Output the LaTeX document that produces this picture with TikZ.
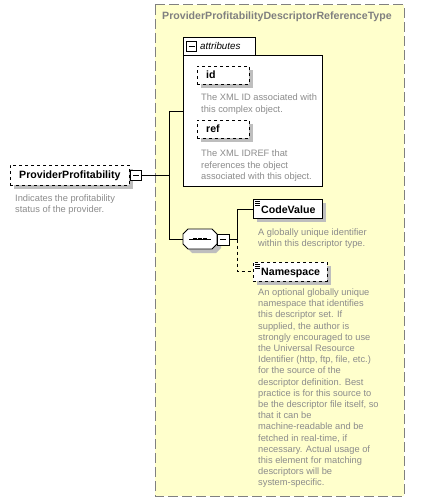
\documentclass[tikz,border=0pt]{standalone}
\usepackage{fontspec}
\setmainfont{Liberation Sans}
\begin{document}
\begin{tikzpicture}[x=1pt,y=-1pt,
  desc/.style={anchor=north west,inner sep=0pt,text=descgray,align=left,font=\fontsize{9.3}{11.2}\selectfont},
  elem/.style={draw=black,fill=white,inner sep=0pt,font=\fontsize{10}{12}\selectfont\bfseries},
  lbl/.style={anchor=west,inner sep=0pt,font=\fontsize{10.6}{12}\selectfont\bfseries},
  conn/.style={draw=black,line width=0.8pt},
  minusbox/.style={draw=black,fill=white,line width=0.8pt}
]
\definecolor{descgray}{RGB}{140,140,140}
\definecolor{titlegray}{RGB}{128,128,128}
\definecolor{shadowgray}{RGB}{190,190,190}
\definecolor{boxyellow}{RGB}{255,255,204}
\definecolor{framegray}{RGB}{128,128,128}
\useasboundingbox (0,0) rectangle (447,502);
\fill[white] (0,0) rectangle (447,502);

% type container
\draw[fill=boxyellow,draw=framegray,line width=1pt,dash pattern=on 10pt off 4pt] (155,5) rectangle (404,496);
\node[anchor=west,inner sep=0pt,text=titlegray,font=\fontsize{10.6}{12}\selectfont\bfseries] (title) at (162,17) {ProviderProfitabilityDescriptorReferenceType};

% attributes group
\draw[fill=white,draw=black,line width=0.8pt] (183,55) rectangle (322,186);
\draw[fill=white,draw=black,line width=0.8pt] (183,55) -- (183,37) -- (255,37) -- (255,55);
\draw[minusbox] (186.5,41.5) rectangle (196.5,51.5);
\draw[line width=0.8pt] (188.5,46.5) -- (194.5,46.5);
\node[anchor=west,inner sep=0pt,font=\fontsize{9.8}{11}\selectfont\itshape] (attr) at (200,46) {attributes};

% id
\fill[shadowgray] (201,70) rectangle (253,88);
\node[elem,dashed,minimum width=52pt,minimum height=18pt,anchor=north west] (id) at (197,66) {};
\node[lbl] at (206,75) {id};
\node[desc] (iddesc) at (201,94) {The XML ID associated with\\this complex object.};

% ref
\fill[shadowgray] (201,124) rectangle (253,142);
\node[elem,dashed,minimum width=52pt,minimum height=18pt,anchor=north west] (ref) at (197,120) {};
\node[lbl] at (206,129) {ref};
\node[desc] (refdesc) at (201,150) {The XML IDREF that\\references the object\\associated with this object.};

% ProviderProfitability
\fill[shadowgray] (14,169) rectangle (133,189);
\node[elem,dashed,minimum width=119pt,minimum height=20pt,anchor=north west] (pp) at (10,165) {};
\node[lbl] at (19,175.5) {ProviderProfitability};
\draw[minusbox,line width=1.2pt] (130.5,170.5) rectangle (141.5,180.5);
\draw[line width=1pt] (133,175.5) -- (139,175.5);
\node[desc] (ppdesc) at (15,194.5) {Indicates the profitability\\status of the provider.};

\coordinate (ppout) at (141.5,175.5);
\coordinate (j1) at (169.5,175.5);
\draw[conn] (ppout) -- (j1);
\draw[conn] (169.5,111) -- (183,111);
\draw[conn] (169.5,111) -- (169.5,239) -- (183,239);

% sequence
\fill[shadowgray] (192,233) -- (216,233) -- (221,238) -- (221,248) -- (216,253) -- (192,253) -- (187,248) -- (187,238) -- cycle;
\draw[fill=white,line width=0.8pt] (188,229) -- (212,229) -- (217,234) -- (217,244) -- (212,249) -- (188,249) -- (183,244) -- (183,234) -- cycle;
\draw[line width=0.8pt] (189,239) -- (211,239);
\foreach \xx in {195,200,205} \fill (\xx-1.6,237.6) rectangle (\xx+1.6,240.4);
\draw[minusbox] (217,234) rectangle (229,245);
\draw[line width=0.8pt] (220,239.5) -- (226,239.5);
\draw[conn] (229,239.5) -- (237,239.5);
\draw[conn] (237,239.5) -- (237,209) -- (253,209);
\draw[conn,dashed] (237,239.5) -- (237,271) -- (253,271);

% CodeValue
\fill[shadowgray] (257,203) rectangle (326,222);
\node[elem,minimum width=69pt,minimum height=19pt,anchor=north west] (cv) at (253,199) {};
\node[lbl] at (261,209.5) {CodeValue};
\foreach \yy in {201.5,203.5,205.5} \draw[line width=0.6pt] (255,\yy) -- (260,\yy);
\node[desc] (cvdesc) at (258,228.5) {A globally unique identifier\\within this descriptor type.};

% Namespace
\fill[shadowgray] (257,266) rectangle (331,285);
\node[elem,dashed,minimum width=74pt,minimum height=19pt,anchor=north west] (ns) at (253,262) {};
\node[lbl] at (261,272.5) {Namespace};
\foreach \yy in {264.5,266.5,268.5} \draw[line width=0.6pt] (255,\yy) -- (260,\yy);
\node[desc] (nsdesc) at (258,288.5) {An optional globally unique\\namespace that identifies\\this descriptor set. If\\supplied, the author is\\strongly encouraged to use\\the Universal Resource\\Identifier (http, ftp, file, etc.)\\for the source of the\\descriptor definition. Best\\practice is for this source to\\be the descriptor file itself, so\\that it can be\\machine-readable and be\\fetched in real-time, if\\necessary. Actual usage of\\this element for matching\\descriptors will be\\system-specific.};
\end{tikzpicture}
\end{document}
